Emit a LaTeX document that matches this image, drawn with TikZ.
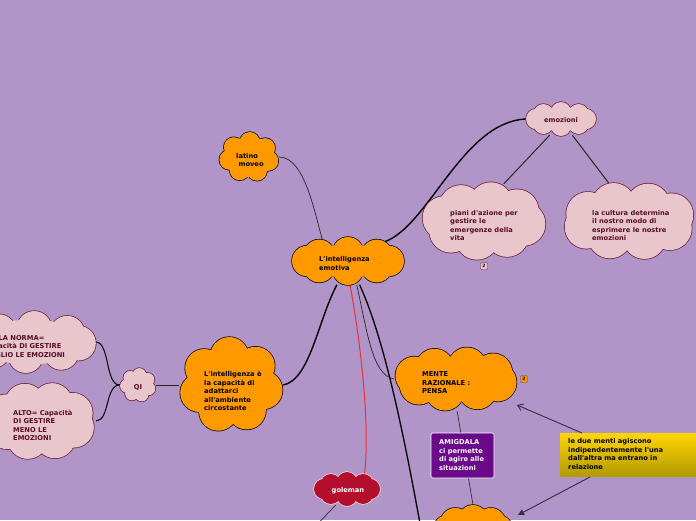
\documentclass[tikz,border=0pt]{standalone}
\usepackage{fontspec}
\newfontfamily\dv{DejaVu Sans}
\usetikzlibrary{shapes.geometric,arrows.meta}
\definecolor{bgc}{RGB}{177,149,200}
\definecolor{orng}{RGB}{255,153,0}
\definecolor{pnk}{RGB}{232,198,204}
\definecolor{mrn}{RGB}{105,22,50}
\definecolor{ptxt}{RGB}{88,14,40}
\definecolor{gol}{RGB}{180,14,45}
\definecolor{golb}{RGB}{245,225,230}
\definecolor{amig}{RGB}{106,10,138}
\definecolor{ylwt}{RGB}{255,214,0}
\definecolor{ylwb}{RGB}{178,154,0}
\definecolor{redl}{RGB}{232,50,60}
\definecolor{grl}{RGB}{55,45,60}
% custom cloud: #1 cx, #2 cy, #3 w, #4 h, #5 fill, #6 border, #7 start angle, #8 puff factor, #9 puffs
\newcommand\mycloud[9]{%
  \pgfmathsetmacro\cldr{#8*min(#3,#4)}%
  \pgfmathsetmacro\clda{#3/2-\cldr}%
  \pgfmathsetmacro\cldb{#4/2-\cldr}%
  \pgfmathsetmacro\cldn{#9-1}%
  \pgfmathsetmacro\cldst{360/#9}%
  \foreach \k in {0,...,\cldn}{%
    \pgfmathsetmacro\ang{#7+\k*\cldst}%
    \fill[#6] ({#1+\clda*cos(\ang)},{#2+\cldb*sin(\ang)}) circle[radius=\cldr pt+0.7pt];
  }%
  \foreach \k in {0,...,\cldn}{%
    \pgfmathsetmacro\ang{#7+\k*\cldst}%
    \fill[#5] ({#1+\clda*cos(\ang)},{#2+\cldb*sin(\ang)}) circle[radius=\cldr pt];
  }%
  \fill[#5] (#1,#2) ellipse[x radius=\clda pt+0.5*\cldr pt, y radius=\cldb pt+0.5*\cldr pt];
}
\tikzset{
  anc/.style={ellipse, inner sep=0pt, draw=none},
  tx/.style={font=\dv\bfseries\fontsize{6.7}{8.5}\selectfont, align=left, inner sep=0pt, anchor=west},
  ot/.style={tx, text=black},
  pt/.style={tx, text=ptxt},
  thk/.style={draw=black, line width=1.4pt},
  thn/.style={draw=black!85, line width=0.7pt},
  badge/.style={draw=mrn, rounded corners=1.2pt, minimum width=7pt, minimum height=7pt, inner sep=0pt, font=\dv\bfseries\fontsize{4.5}{5}\selectfont, line width=0.4pt},
}
\begin{document}
\begin{tikzpicture}[x=1pt,y=-1pt]
\useasboundingbox (0,0) rectangle (696,520);
\fill[bgc] (0,0) rectangle (696,520);
\clip (0,0) rectangle (696,520);

% anchor nodes (invisible ellipses)
\node[anc, minimum width=112pt, minimum height=48pt] (central) at (348,261) {};
\node[anc, minimum width=60pt, minimum height=50pt] (latino) at (249,157) {};
\node[anc, minimum width=70pt, minimum height=34pt] (emozioni) at (561,119) {};
\node[anc, minimum width=124pt, minimum height=78pt] (piani) at (484,221) {};
\node[anc, minimum width=134pt, minimum height=78pt] (cultura) at (629,221) {};
\node[anc, minimum width=124pt, minimum height=64pt] (mente) at (456,379) {};
\node[anc, minimum width=80pt, minimum height=50pt] (bottom) at (473,530) {};
\node[anc, minimum width=104pt, minimum height=96pt] (capacita) at (231,385) {};
\node[anc, minimum width=36pt, minimum height=34pt] (qi) at (138,385) {};
\node[anc, minimum width=132pt, minimum height=62pt] (norma) at (30,342) {};
\node[anc, minimum width=112pt, minimum height=78pt] (alto) at (40,421) {};
\node[anc, minimum width=66pt, minimum height=34pt] (goleman) at (347,489) {};

% connectors (drawn under clouds)
\coordinate (offbottom) at (423,540);
\coordinate (offgol) at (308,534);
\draw[thn] (latino.east) .. controls (305,157) and (315,215) .. (central.140);
\draw[thk] (central.28) .. controls (428,228) and (462,122) .. (emozioni.west);
\draw[thn, line width=1pt] (emozioni.235) -- (piani.62);
\draw[thn, line width=1pt] (emozioni.305) -- (cultura.118);
\draw[thn] (central.290) .. controls (367,330) and (372,375) .. (mente.west);
\draw[thk, line width=1.3pt] (central.296) .. controls (385,340) and (405,440) .. (offbottom);
\draw[redl, line width=1pt] (central.275) .. controls (362,350) and (370,430) .. (goleman.40);
\draw[thk] (central.245) .. controls (318,320) and (310,380) .. (capacita.east);
\draw[thn] (qi.east) -- (capacita.west);
\draw[thk, line width=1pt] (qi.west) .. controls (105,385) and (110,343) .. (norma.east);
\draw[thk, line width=1pt] (qi.west) .. controls (105,385) and (110,420) .. (alto.east);
\draw[thn, draw=grl] (mente.272) -- (bottom.north);
\draw[thn, draw=grl] (goleman.235) -- (offgol);

% clouds
\mycloud{348}{261}{112}{48}{orng}{black}{0}{0.32}{8}
\mycloud{249}{157}{60}{50}{orng}{black}{15}{0.2}{7}
\mycloud{561}{119}{70}{34}{pnk}{mrn}{0}{0.3}{8}
\mycloud{484}{221}{124}{78}{pnk}{mrn}{10}{0.28}{8}
\mycloud{629}{221}{134}{78}{pnk}{mrn}{25}{0.28}{8}
\mycloud{456}{379}{124}{64}{orng}{black}{15}{0.3}{8}
\mycloud{473}{530}{80}{50}{orng}{black}{0}{0.3}{8}
\mycloud{231}{385}{104}{96}{orng}{black}{10}{0.2}{7}
\mycloud{138}{385}{36}{34}{pnk}{mrn}{20}{0.2}{7}
\mycloud{30}{342}{132}{62}{pnk}{mrn}{5}{0.28}{8}
\mycloud{40}{421}{112}{78}{pnk}{mrn}{20}{0.26}{8}
\mycloud{347}{489}{66}{34}{gol}{golb}{0}{0.3}{8}

% boxes
\node[draw=white, line width=0.6pt, fill=amig, rounded corners=1.5pt, minimum width=63pt, minimum height=45pt, inner sep=0pt] (amigdala) at (462.5,455.5) {};
\shade[top color=ylwt, bottom color=ylwb] (560,433) rectangle (700,476);
\coordinate (yellow) at (620,454.5);
\node[badge, fill=orng, draw=black!70] (b1) at (524,379) {2};
\node[badge, fill=pnk] (b2) at (484,266) {2};

% texts
\node[ot] (tcentral) at (319,263.5) {L'intelligenza\\emotiva};
\node[ot] (tlatino) at (236,160) {latino\\\ moveo};
\node[pt, anchor=center] (temoz) at (561,120) {emozioni};
\node[pt] (tpiani) at (450,225.5) {piani d'azione per\\gestire le\\emergenze della\\vita};
\node[pt] (tcult) at (592,225.5) {la cultura determina\\il nostro modo di\\esprimere le nostre\\emozioni};
\node[ot] (tmente) at (422,383) {MENTE\\RAZIONALE :\\PENSA};
\node[tx, text=white] (tamig) at (439,455) {AMIGDALA\\ci permette\\di agire alle\\situazioni};
\node[ot] (tyel) at (568,454) {le due menti agiscono\\indipendentemente l'una\\dall'altra ma entrano in\\relazione};
\node[tx, text=white, anchor=center] (tgol) at (348,491) {goleman};
\node[ot] (tcap) at (204,391) {L'intelligenza è\\la capacità di\\adattarci\\all'ambiente\\circostante};
\node[pt, anchor=center] (tqi) at (138,387) {QI};
\node[pt] (tnorma) at (-16,346.5) {NELLA NORMA=\\Capacità DI GESTIRE\\MEGLIO LE EMOZIONI};
\node[pt] (talto) at (13,425.5) {ALTO= Capacità\\DI GESTIRE\\MENO LE\\EMOZIONI};

% arrows
\draw[draw=grl, line width=0.9pt, -{Straight Barb[length=5pt,width=7pt]}] (582,433) -- (517,405);
\draw[draw=grl, line width=0.9pt, -{Triangle[length=6pt,width=6pt]}] (590,477) -- (518,515);
\end{tikzpicture}
\end{document}
